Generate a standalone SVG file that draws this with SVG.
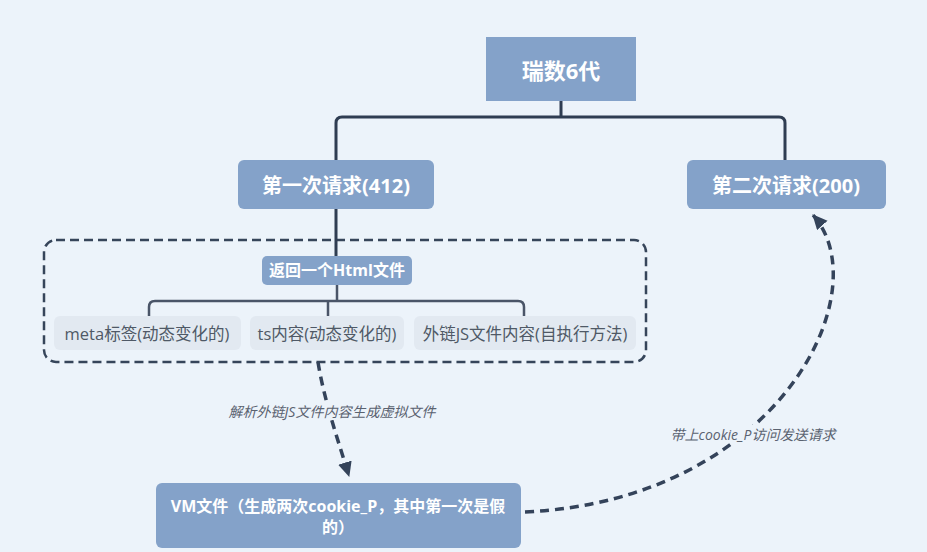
<svg xmlns="http://www.w3.org/2000/svg" width="927" height="552" viewBox="0 0 927 552">
<style>
.bg{fill:#ECF3FA}
.node{fill:#84A2C9}
.sub{fill:#E2E9F1}
.t{font-family:"Open Sans","Noto Sans CJK SC",sans-serif;text-anchor:middle;dominant-baseline:central}
.tw{fill:#FFFFFF;font-weight:bold}
.tg{fill:#4F5966}
.lab{fill:#5A6270;font-style:italic;font-size:14px}
.tree{fill:none;stroke:#2F3D52;stroke-width:3;stroke-linejoin:round}
.tree2{fill:none;stroke:#4A5568;stroke-width:2.5}
.dash{fill:none;stroke:#34435A;stroke-width:3.5;stroke-dasharray:9 6}
.box{fill:none;stroke:#36455A;stroke-width:2.5;stroke-dasharray:9 5}
</style>
<defs>
<marker id="arr" markerUnits="userSpaceOnUse" markerWidth="18" markerHeight="18" refX="14" refY="7" orient="auto">
<path d="M0,0 L15,7 L0,14 Z" fill="#34435A"/>
</marker>
</defs>
<rect class="bg" x="0" y="0" width="927" height="552"/>
<g id="group-box">
<rect class="box" x="44" y="240" width="602" height="122" rx="12"/>
</g>
<g id="connectors">
<path class="tree" d="M561,101 V117 M336,160 V123 Q336,117 342,117 H779 Q785,117 785,123 V160"/>
<path class="tree" d="M336,209 V256"/>
<path class="tree2" d="M337,285 V301 M149,316 V307 Q149,301 155,301 H518 Q524,301 524,307 V316 M328,301 V316"/>
<path class="dash" d="M318,362 C324,400 338,440 349,476" marker-end="url(#arr)"/>
<path class="dash" d="M525,512 C780,500 880,290 813,215" marker-end="url(#arr)"/>
<rect class="bg" x="226" y="402" width="214" height="18"/>
<text class="t lab" x="332" y="411">解析外链JS文件内容生成虚拟文件</text>
<rect class="bg" x="668" y="425" width="170" height="18"/>
<text class="t lab" x="753" y="434">带上cookie_P访问发送请求</text>
</g>
<g id="root">
<rect class="node" x="486" y="37" width="150" height="64"/>
<text class="t tw" x="561" y="70" font-size="22">瑞数6代</text>
</g>
<g id="req1">
<rect class="node" x="238" y="160" width="196" height="49" rx="6"/>
<text class="t tw" x="336" y="185" font-size="20">第一次请求(412)</text>
</g>
<g id="req2">
<rect class="node" x="687" y="160" width="199" height="49" rx="6"/>
<text class="t tw" x="786" y="185" font-size="20">第二次请求(200)</text>
</g>
<g id="html">
<rect class="node" x="262" y="256" width="150" height="29" rx="5"/>
<text class="t tw" x="337" y="270" font-size="16">返回一个Html文件</text>
</g>
<g id="meta">
<rect class="sub" x="54" y="316" width="187" height="34" rx="6"/>
<text class="t tg" x="147" y="333" font-size="16.5">meta标签(动态变化的)</text>
</g>
<g id="ts">
<rect class="sub" x="250" y="316" width="154" height="34" rx="6"/>
<text class="t tg" x="327" y="333" font-size="16.5">ts内容(动态变化的)</text>
</g>
<g id="js">
<rect class="sub" x="414" y="316" width="222" height="34" rx="6"/>
<text class="t tg" x="525" y="333" font-size="16.5">外链JS文件内容(自执行方法)</text>
</g>
<g id="vm">
<rect class="node" x="156" y="483" width="365" height="65" rx="6"/>
<text class="t tw" x="338" y="506" font-size="16">VM文件（生成两次cookie_P，其中第一次是假</text>
<text class="t tw" x="338" y="527" font-size="16">的）</text>
</g>
</svg>
